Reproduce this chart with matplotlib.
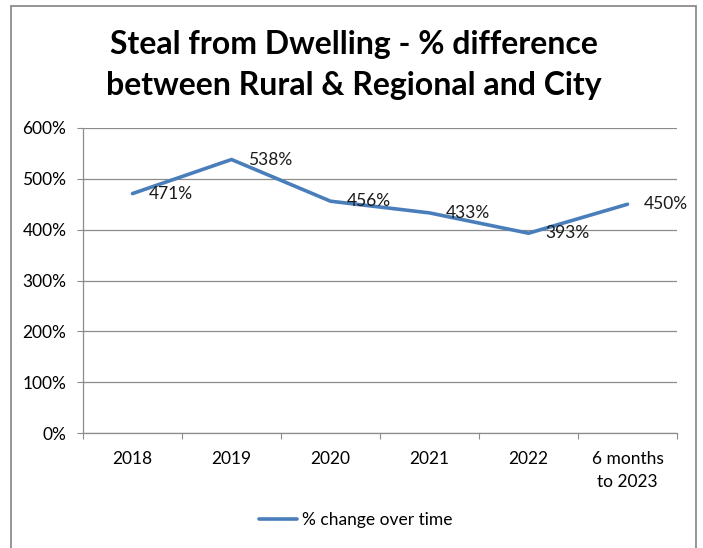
import matplotlib
matplotlib.use("Agg")
import matplotlib.pyplot as plt
from matplotlib.patches import Rectangle

categories = ["2018", "2019", "2020", "2021", "2022", "6 months\nto 2023"]
pct_change = [471, 538, 456, 433, 393, 450]
y_ticks = [0, 100, 200, 300, 400, 500, 600]

LINE_BLUE = "#4A7EBB"
GRID_GREY = "#8C8C8C"

plt.rcParams["font.family"] = ["Lato", "DejaVu Sans"]

fig = plt.figure(figsize=(7.03, 5.48), dpi=100)
fig.patch.set_facecolor("white")

# chart-area border like Excel
fig.add_artist(Rectangle((11 / 703, -0.05), 685 / 703, 1.05 - 6 / 548,
                         transform=fig.transFigure, fill=False,
                         edgecolor="#8C8C8C", linewidth=1.3))

ax = fig.add_axes([83 / 703, 1 - 433 / 548, 594 / 703, 305 / 548])
x = list(range(len(categories)))
line, = ax.plot(x, pct_change, color=LINE_BLUE, linewidth=2.6,
                label="% change over time", solid_capstyle="round")

for xi, v in zip(x, pct_change):
    ax.annotate(f"{v}%", (xi, v), xytext=(12, 0), textcoords="offset points",
                ha="left", va="center", fontsize=12.5, color="#1a1a1a")

ax.set_xlim(-0.5, len(categories) - 0.5)
ax.set_ylim(0, 600)
ax.set_yticks(y_ticks)
ax.set_yticklabels([f"{t}%" for t in y_ticks])
ax.yaxis.grid(True, color=GRID_GREY, linewidth=0.9)
ax.set_axisbelow(True)

ax.set_xticks([i - 0.5 for i in range(len(categories) + 1)])
ax.set_xticklabels([])
ax.set_xticks(x, minor=True)
ax.set_xticklabels(categories, minor=True, fontsize=12.5, linespacing=1.55)
ax.tick_params(axis="x", which="minor", length=0, pad=13)
ax.tick_params(axis="x", which="major", length=4, color=GRID_GREY, direction="out")
ax.tick_params(axis="y", length=4, color=GRID_GREY, labelsize=12.5, pad=8)

for side in ("top", "right"):
    ax.spines[side].set_visible(False)
for side in ("left", "bottom"):
    ax.spines[side].set_color(GRID_GREY)
    ax.spines[side].set_linewidth(0.9)

fig.text(354 / 703, 1 - 65 / 548,
         "Steal from Dwelling - % difference\nbetween Rural & Regional and City",
         ha="center", va="center", fontsize=23, fontweight="bold",
         linespacing=1.5)

fig.legend(handles=[line], loc="center", bbox_to_anchor=(356 / 703, 1 - 520 / 548),
           frameon=False, fontsize=12.5, handlelength=2.2, handletextpad=0.3)

fig.savefig("out.png", dpi=100)
